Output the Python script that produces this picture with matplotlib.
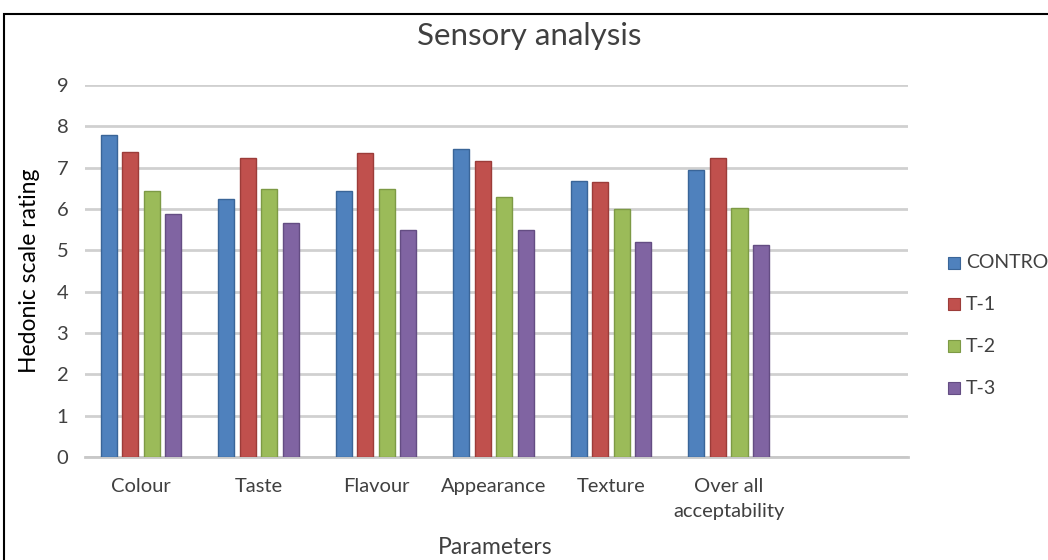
import matplotlib
matplotlib.use("Agg")
import matplotlib.pyplot as plt
from matplotlib.patches import Rectangle
import numpy as np

categories = ["Colour", "Taste", "Flavour", "Appearance", "Texture", "Over all\nacceptability"]
series_names = ["CONTROL", "T-1", "T-2", "T-3"]
control = [7.79, 6.23, 6.44, 7.45, 6.68, 6.95]
t1 = [7.38, 7.24, 7.36, 7.16, 6.65, 7.24]
t2 = [6.44, 6.48, 6.48, 6.29, 6.00, 6.02]
t3 = [5.89, 5.66, 5.49, 5.49, 5.20, 5.13]
yticks = list(range(0, 10))

colors = ["#4F81BD", "#C0504D", "#9BBB59", "#8064A2"]
edges = ["#3A6598", "#9C3C39", "#7D9A45", "#644D83"]

plt.rcParams['font.family'] = ['Lato', 'DejaVu Sans']

fig = plt.figure(figsize=(10.48, 5.6), dpi=100)
ax = fig.add_axes([85/1048, 1-457/560, 823/1048, (457-85)/560])

x = np.arange(len(categories))
pitch = 0.183
width = 0.137
data = [control, t1, t2, t3]
for i, (vals, c, e) in enumerate(zip(data, colors, edges)):
    ax.bar(x + (i - 1.5) * pitch - 0.025, vals, width=width, color=c, edgecolor=e,
           linewidth=1.0, zorder=3, label=series_names[i])

ax.set_xlim(-0.5, 6.5)
ax.set_ylim(0, 9)
ax.set_yticks(yticks)
ax.set_yticklabels([str(v) for v in yticks], fontsize=14.5, color="#404040")
ax.set_xticks(x - 0.025)
ax.set_xticklabels(categories, fontsize=14.5, color="#404040", linespacing=1.55)
ax.tick_params(axis='both', length=0)
ax.tick_params(axis='y', pad=12)
ax.tick_params(axis='x', pad=15)
ax.grid(axis='y', color="#D0D0D0", linewidth=2.0, zorder=0)
for s in ["top", "right", "left"]:
    ax.spines[s].set_visible(False)
ax.spines["bottom"].set_color("#C8C8C8")
ax.spines["bottom"].set_linewidth(2.0)
ax.set_axisbelow(True)

fig.text(529/1048, 1-36/560, "Sensory analysis", ha="center", va="center",
         fontsize=22.5, color="#404040")
fig.text(30/1048, 1-271/560, "Hedonic scale rating", rotation=90, ha="center",
         va="center", fontsize=16.5, color="#000000")
fig.text(495/1048, 1-548/560, "Parameters", ha="center", va="center",
         fontsize=16.5, color="#404040")

# legend
leg_y = [263, 304, 346, 388]
for name, c, e, yy in zip(series_names, colors, edges, leg_y):
    fig.patches.append(Rectangle((948/1048, 1-(yy+6)/560), 12/1048, 12/560,
                                 transform=fig.transFigure, facecolor=c, edgecolor=e, lw=0.8))
    fig.text(966/1048, 1-yy/560, name, ha="left", va="center", fontsize=14, color="#404040")

# outer border
fig.patches.append(Rectangle((4/1048, -0.1), 1.2, 1.1 - 14/560, transform=fig.transFigure,
                             facecolor="none", edgecolor="black", lw=1.5))

fig.savefig("out.png", dpi=100)
